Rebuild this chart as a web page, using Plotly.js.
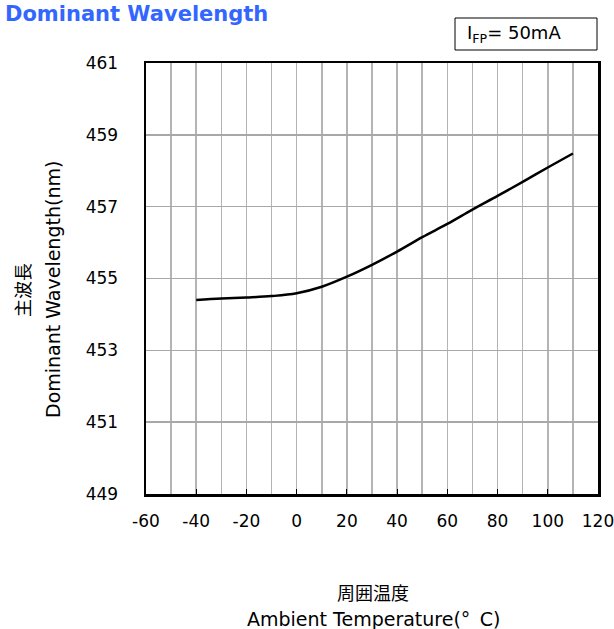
<!DOCTYPE html>
<html><head><meta charset="utf-8">
<script src="https://cdn.plot.ly/plotly-3.0.1.min.js"></script>
<style>body{margin:0;padding:0;background:#fff}#chart{width:614px;height:629px}</style>
</head><body><div id="chart"></div>
<script>
const temperature = [-40, -30, -20, -10, 0, 10, 20, 30, 40, 50, 60, 70, 80, 90, 100, 110];
const wavelength = [454.40, 454.44, 454.47, 454.51, 454.59, 454.77, 455.05, 455.38, 455.75, 456.15, 456.52, 456.92, 457.30, 457.69, 458.09, 458.48];
const xTicks = [-60, -40, -20, 0, 20, 40, 60, 80, 100, 120];
const yTicks = [449, 451, 453, 455, 457, 459, 461];

const F = '"DejaVu Sans", Verdana, sans-serif';
const CJK = '"Noto Sans CJK JP", sans-serif';
const L = 146, R = 598, T = 63, B = 494;
const px = x => (x - L) / (R - L);
const py = y => (B - y) / (B - T);

const data = [{
  x: temperature, y: wavelength, type: 'scatter', mode: 'lines',
  line: {color: '#000', width: 2.5, shape: 'spline', smoothing: 1},
  hoverinfo: 'skip', showlegend: false
}];

const layout = {
  width: 614, height: 629,
  margin: {l: L, r: 614 - R, t: T, b: 629 - B},
  paper_bgcolor: '#fff', plot_bgcolor: '#fff',
  font: {family: F, color: '#000', size: 17},
  title: {text: '<b>Dominant Wavelength</b>', font: {family: F, size: 21, color: '#3366ff'},
    x: 5 / 614, xanchor: 'left', xref: 'container', y: 1 - 14 / 629, yanchor: 'middle', yref: 'container'},
  xaxis: {range: [-60, 120], tickvals: xTicks, ticktext: xTicks.map(String),
    showgrid: true, gridcolor: '#b4b4b4', gridwidth: 1.5,
    minor: {dtick: 10, tick0: 0, showgrid: true, gridcolor: '#b4b4b4', gridwidth: 1.5},
    ticks: 'inside', ticklen: 5, tickwidth: 1.2, tickcolor: '#000',
    showline: true, linecolor: '#000', linewidth: 2.5, mirror: true,
    zeroline: false, tickfont: {size: 17, family: F}, ticklabelstandoff: 10,
    ticklabeloverflow: 'allow', fixedrange: true},
  yaxis: {range: [449, 461], tickvals: yTicks, ticktext: yTicks.map(String),
    showgrid: true, gridcolor: '#a8a8a8', gridwidth: 1.5, ticks: '',
    showline: true, linecolor: '#000', linewidth: 2.5, mirror: true,
    zeroline: false, tickfont: {size: 17, family: F}, ticklabelstandoff: 22,
    ticklabeloverflow: 'allow', fixedrange: true},
  shapes: [
    {type: 'rect', xref: 'paper', yref: 'paper', x0: px(455), x1: px(597), y0: py(18), y1: py(50),
      line: {color: '#000', width: 1}, fillcolor: 'rgba(0,0,0,0)'}
  ],
  annotations: [
    {text: 'I<sub>FP</sub>= 50mA', xref: 'paper', yref: 'paper', x: px(465), y: py(34),
      xanchor: 'left', yanchor: 'middle', showarrow: false, font: {size: 18, family: F}},
    {text: '主波長', xref: 'paper', yref: 'paper', x: px(22), y: py(290), textangle: -90,
      xanchor: 'center', yanchor: 'middle', showarrow: false, font: {size: 18, family: CJK}},
    {text: 'Dominant Wavelength(nm)', xref: 'paper', yref: 'paper', x: px(53), y: py(290), textangle: -90,
      xanchor: 'center', yanchor: 'middle', showarrow: false, font: {size: 19, family: F}},
    {text: '周囲温度', xref: 'paper', yref: 'paper', x: px(373), y: py(592),
      xanchor: 'center', yanchor: 'middle', showarrow: false, font: {size: 18, family: CJK}},
    {text: 'Ambient Temperature(°\u2002C)', xref: 'paper', yref: 'paper', x: px(374), y: py(619),
      xanchor: 'center', yanchor: 'middle', showarrow: false, font: {size: 19, family: F}}
  ]
};
Plotly.newPlot('chart', data, layout, {displayModeBar: false, staticPlot: true});
</script></body></html>
